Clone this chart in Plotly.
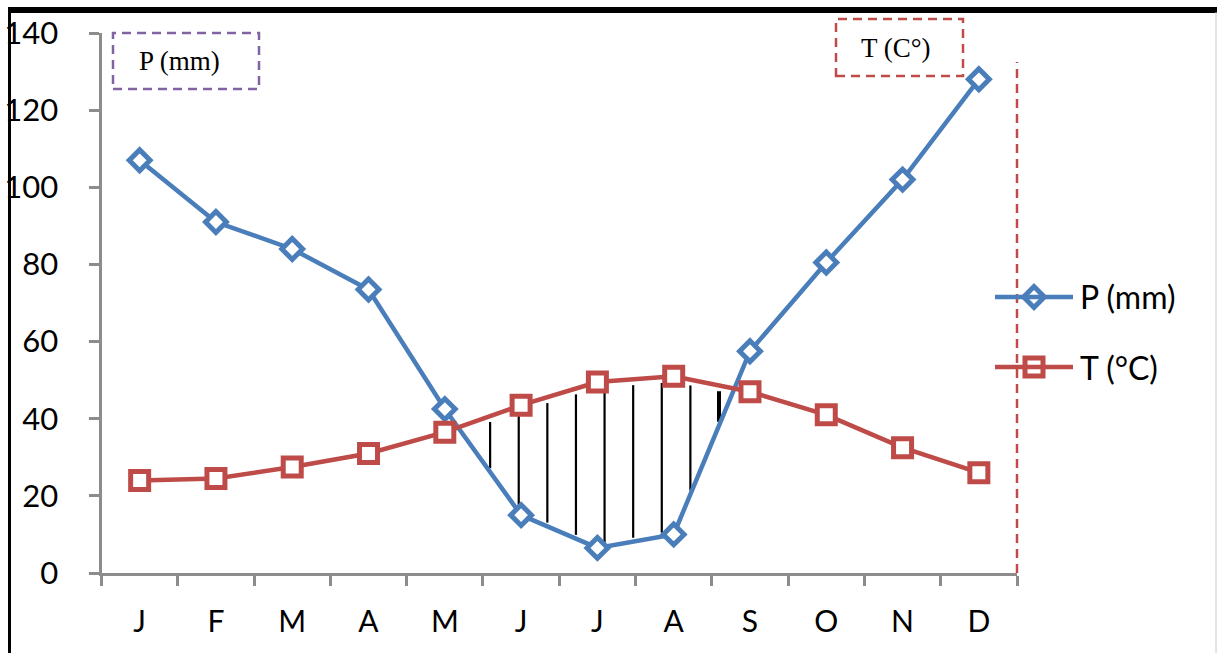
import numpy as np
import plotly.graph_objects as go

# Monthly climate values (ombrothermic diagram)
months = ["J", "F", "M", "A", "M", "J", "J", "A", "S", "O", "N", "D"]
precip_mm = [107, 91, 84, 73.5, 42.5, 15, 6.5, 10, 57.5, 80.5, 102, 128]
temp_c = [24, 24.5, 27.5, 31, 36.5, 43.5, 49.5, 51, 47, 41, 32.5, 26]
y_ticks = [0, 20, 40, 60, 80, 100, 120, 140]

W, H = 1217, 653
BLUE = "#4A7EBB"
RED = "#BE4B48"
PURPLE = "#8064A2"
AXIS_GREY = "#8C8C8C"
FONT = "Lato"
DASH = "9px,6px"


def px_x(p):
    return p / W


def px_y(p):
    return 1 - p / H


x_idx = np.arange(len(months))
P = np.array(precip_mm, dtype=float)
T = np.array(temp_c, dtype=float)

fig = go.Figure()

fig.add_trace(go.Scatter(
    x=x_idx, y=P, mode="lines+markers", name="P (mm)", showlegend=False,
    line=dict(color=BLUE, width=4.5),
    marker=dict(symbol="diamond", size=16, color="white",
                line=dict(color=BLUE, width=5)),
))
fig.add_trace(go.Scatter(
    x=x_idx, y=T, mode="lines+markers", name="T (°C)", showlegend=False,
    line=dict(color=RED, width=4.5),
    marker=dict(symbol="square", size=18, color="white",
                line=dict(color=RED, width=5)),
))

# Dry period: hatch the area where the temperature curve is above precipitation
diff = P - T
crossings = []
for i in range(len(diff) - 1):
    if diff[i] * diff[i + 1] < 0:
        crossings.append(i + diff[i] / (diff[i] - diff[i + 1]))
shapes = []
if len(crossings) >= 2:
    hatch_x = np.arange(crossings[0] + 0.42, crossings[1] - 0.1, 0.375)
    for k, hx in enumerate(hatch_x):
        p_val = np.interp(hx, x_idx, P)
        t_val = np.interp(hx, x_idx, T)
        shapes.append(dict(
            type="line", xref="x", yref="y", x0=hx, x1=hx,
            y0=p_val + 1.0, y1=t_val - 1.5,
            line=dict(color="black", width=4 if k == len(hatch_x) - 1 else 2.2),
            layer="below",
        ))

# Page frame
shapes += [
    dict(type="line", xref="paper", yref="paper", x0=px_x(8), x1=1,
         y0=px_y(10), y1=px_y(10), line=dict(color="black", width=6)),
    dict(type="line", xref="paper", yref="paper", x0=px_x(9.5), x1=px_x(9.5),
         y0=0, y1=px_y(8), line=dict(color="black", width=3)),
    dict(type="line", xref="paper", yref="paper", x0=px_x(1216), x1=px_x(1216),
         y0=0, y1=px_y(12), line=dict(color="#C8C8C8", width=1)),
    # Dashed unit boxes and the dashed right-hand marker line
    dict(type="rect", xref="paper", yref="paper", x0=px_x(113), x1=px_x(259),
         y0=px_y(89), y1=px_y(33),
         line=dict(color=PURPLE, width=2.5, dash=DASH)),
    dict(type="rect", xref="paper", yref="paper", x0=px_x(836), x1=px_x(963),
         y0=px_y(76), y1=px_y(19),
         line=dict(color=RED, width=2.5, dash=DASH)),
    dict(type="line", xref="paper", yref="paper", x0=px_x(1017), x1=px_x(1017),
         y0=px_y(573), y1=px_y(62),
         line=dict(color=RED, width=2.5, dash=DASH)),
]

# Custom legend samples
legend_rows = [("P (mm)", BLUE, "diamond", 16, 5, 297),
               ("T (°C)", RED, "square", 18, 5, 367)]
annotations = []
for label, col, sym, size, lw, ypx in legend_rows:
    shapes.append(dict(type="line", xref="paper", yref="paper",
                       x0=px_x(995), x1=px_x(1073), y0=px_y(ypx), y1=px_y(ypx),
                       line=dict(color=col, width=4.5)))
    fig.add_trace(go.Scatter(
        x=[px_x(1034)], y=[px_y(ypx)], xaxis="x3", yaxis="y3",
        mode="markers", showlegend=False, hoverinfo="skip",
        marker=dict(symbol=sym, size=size, color="white",
                    line=dict(color=col, width=lw)),
    ))
    annotations.append(dict(
        x=px_x(1078), y=px_y(ypx), xref="paper", yref="paper",
        text=label, showarrow=False, xanchor="left", yanchor="middle",
        font=dict(family=FONT, size=32, color="black"),
    ))

annotations += [
    dict(x=px_x(179), y=px_y(61), xref="paper", yref="paper", text="P (mm)",
         showarrow=False, xanchor="center", yanchor="middle",
         font=dict(family="Liberation Serif", size=27, color="black")),
    dict(x=px_x(896), y=px_y(48), xref="paper", yref="paper", text="T (C°)",
         showarrow=False, xanchor="center", yanchor="middle",
         font=dict(family="Liberation Serif", size=27, color="black")),
]

x_dom = [px_x(101.5), px_x(1017)]
y_dom = [px_y(573), px_y(33)]

fig.update_layout(
    width=W, height=H,
    margin=dict(l=0, r=0, t=0, b=0),
    paper_bgcolor="white", plot_bgcolor="rgba(0,0,0,0)",
    showlegend=False,
    shapes=shapes,
    annotations=annotations,
    xaxis=dict(
        domain=x_dom, range=[-0.5, 11.5], automargin=False,
        tickvals=list(np.arange(-0.5, 12, 1.0)), ticktext=[""] * 13,
        ticks="outside", ticklen=10, tickwidth=3, tickcolor=AXIS_GREY,
        showline=True, linecolor=AXIS_GREY, linewidth=3,
        showgrid=False, zeroline=False, fixedrange=True,
    ),
    xaxis2=dict(
        overlaying="x", anchor="y", side="bottom", domain=x_dom,
        range=[-0.5, 11.5], automargin=False,
        tickvals=list(x_idx), ticktext=months, ticks="",
        ticklabelstandoff=28,
        tickfont=dict(family=FONT, size=30, color="black"),
        showline=False, showgrid=False, zeroline=False,
    ),
    yaxis=dict(
        domain=y_dom, range=[0, 140], automargin=False,
        tickvals=y_ticks, ticks="outside", ticklen=10, tickwidth=3,
        tickcolor=AXIS_GREY, ticklabelstandoff=24,
        tickfont=dict(family=FONT, size=31, color="black"),
        showline=True, linecolor=AXIS_GREY, linewidth=3,
        showgrid=False, zeroline=False,
    ),
    xaxis3=dict(domain=[0, 1], range=[0, 1], visible=False, anchor="y3"),
    yaxis3=dict(domain=[0, 1], range=[0, 1], visible=False, anchor="x3"),
)

# Invisible trace so the month-label axis is rendered
fig.add_trace(go.Scatter(x=[0], y=[0], xaxis="x2", yaxis="y", mode="markers",
                         marker=dict(opacity=0), showlegend=False, hoverinfo="skip"))

fig.write_html("out.html")
